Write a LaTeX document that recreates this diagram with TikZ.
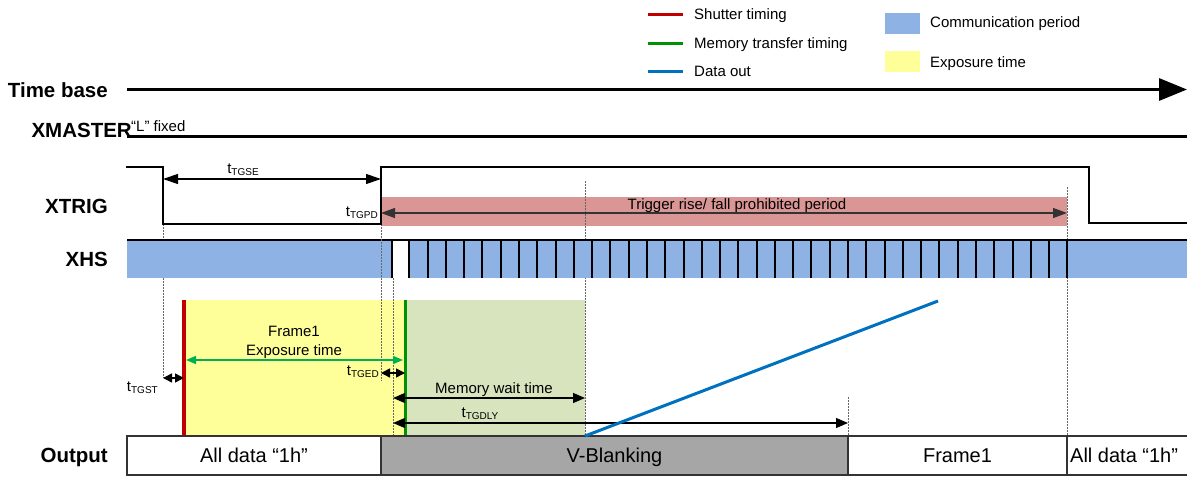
\documentclass[tikz,border=0pt]{standalone}
\usepackage{fontspec}
\setmainfont{Liberation Sans}
\usetikzlibrary{arrows.meta}
\definecolor{comm}{RGB}{141,178,227}
\definecolor{expo}{RGB}{255,255,153}
\definecolor{salmon}{RGB}{217,150,148}
\definecolor{memg}{RGB}{215,228,189}
\definecolor{vgray}{RGB}{166,166,166}
\definecolor{shutred}{RGB}{192,0,0}
\definecolor{memline}{RGB}{0,146,0}
\definecolor{arrgreen}{RGB}{0,176,80}
\definecolor{dataout}{RGB}{0,112,192}
\newcommand{\tsub}[2]{#1\raisebox{-2.5pt}{\fontsize{10}{10}\selectfont #2}}
\begin{document}
\begin{tikzpicture}[x=1pt,y=-1pt,
  lbl/.style={font=\fontsize{20.5}{24}\selectfont\bfseries, inner sep=0, anchor=base east},
  txt/.style={font=\fontsize{15}{18}\selectfont, inner sep=0},
  big/.style={font=\fontsize{20}{24}\selectfont, inner sep=0, anchor=base},
  sig/.style={line width=2.4pt, line join=miter},
  dimarr/.style={line width=1.2pt, {Triangle[length=12pt,width=10pt]}-{Triangle[length=12pt,width=10pt]}},
  bigarr/.style={line width=1.2pt, {Triangle[length=15pt,width=10pt]}-{Triangle[length=15pt,width=10pt]}},
  smallarr/.style={line width=1.5pt, {Triangle[length=9pt,width=9pt]}-{Triangle[length=9pt,width=9pt]}},
  guide/.style={line width=0.9pt, black!60, dash pattern=on 1.6pt off 1.4pt},
  tick/.style={line width=2pt},
  legline/.style={line width=3pt},
  box/.style={draw=black!80, line width=1.2pt, minimum height=39pt, inner sep=0},
]
\useasboundingbox (0,0) rectangle (1187,479);

% ---------- legend ----------
\coordinate (lgr1) at (648,14);  \coordinate (lgr2) at (683,14);
\coordinate (lgg1) at (648,43);  \coordinate (lgg2) at (683,43);
\coordinate (lgb1) at (648,71);  \coordinate (lgb2) at (683,71);
\draw[legline, shutred] (lgr1) -- (lgr2);
\draw[legline, memline] (lgg1) -- (lgg2);
\draw[legline, dataout] (lgb1) -- (lgb2);
\node[txt, anchor=base west] (lgrt) at (694,19.5) {Shutter timing};
\node[txt, anchor=base west] (lggt) at (694,48.5) {Memory transfer timing};
\node[txt, anchor=base west] (lgbt) at (694,76.5) {Data out};
\node[fill=comm, minimum width=35pt, minimum height=21pt, inner sep=0] (lgc) at (902.5,23) {};
\node[txt, anchor=base west] (lgct) at (930,27.5) {Communication period};
\node[fill=expo, minimum width=35pt, minimum height=21pt, inner sep=0] (lge) at (902.5,61) {};
\node[txt, anchor=base west] (lget) at (930,67.5) {Exposure time};

% ---------- time base / xmaster ----------
\node[lbl] (ltb) at (108,97) {Time base};
\coordinate (tb0) at (127,89.5); \coordinate (tb1) at (1187,89.5);
\draw[line width=3.2pt, -{Triangle[length=28pt,width=22pt]}] (tb0) -- (tb1);
\node[lbl] (lxm) at (132,137) {XMASTER};
\node[txt, anchor=base west] (lxmf) at (131,131) {“L” fixed};
\coordinate (xm0) at (127,136); \coordinate (xm1) at (1187,136);
\draw[line width=3pt] (xm0) -- (xm1);

% ---------- background areas ----------
\node[fill=salmon, minimum width=686pt, minimum height=29pt, inner sep=0] (prohib) at (724,211.5) {};
\node[fill=expo, minimum width=221pt, minimum height=136pt, inner sep=0] (expoarea) at (294.5,368) {};
\node[fill=memg, minimum width=180pt, minimum height=136pt, inner sep=0] (memarea) at (495,368) {};

% ---------- guides ----------
\coordinate (g163a) at (163,224);  \coordinate (g163b) at (163,378);
\coordinate (g381a) at (381,224);  \coordinate (g381b) at (381,381);
\coordinate (g393a) at (393,278);  \coordinate (g393b) at (393,436);
\coordinate (g585a) at (585,181);  \coordinate (g585b) at (585,436);
\coordinate (g848a) at (848,397);  \coordinate (g848b) at (848,436);
\coordinate (g1067a) at (1067,187); \coordinate (g1067b) at (1067,436);
\draw[guide] (g163a) -- (g163b);
\draw[guide] (g393a) -- (g393b);
\draw[guide] (g585a) -- (g585b);
\draw[guide] (g848a) -- (g848b);
\draw[guide] (g1067a) -- (g1067b);

% ---------- XHS ----------
\node[lbl] (lxhs) at (108,266) {XHS};
\node[fill=comm, minimum width=1060pt, minimum height=38pt, inner sep=0] (xhsband) at (657,259) {};
\node[fill=white, minimum width=17.3pt, minimum height=38pt, inner sep=0] (xhsgap) at (400.65,259) {};
\coordinate (xh0) at (127,240); \coordinate (xh1) at (1187,240);
\draw[line width=2.5pt] (xh0) -- (xh1);
\draw[tick] (392,240) -- ++(0,38);
\foreach \k in {0,...,36} \draw[tick] ({409.3+18.28*\k},240) -- ++(0,38);
\draw[guide] (g381a) -- (g381b);

% ---------- XTRIG ----------
\node[lbl] (lxt) at (108,213) {XTRIG};
\coordinate (xt0) at (126,167); \coordinate (xt1) at (163,167);
\coordinate (xt2) at (163,224); \coordinate (xt3) at (381,224);
\coordinate (xt4) at (381,167); \coordinate (xt5) at (1089,167);
\coordinate (xt6) at (1089,223); \coordinate (xt7) at (1187,223);
\draw[sig] (xt0) -- (xt1) -- (xt2) -- (xt3) -- (xt4) -- (xt5) -- (xt6) -- (xt7);
\coordinate (pa0) at (381,213); \coordinate (pa1) at (1067,213);
\draw[black!80, line width=1.2pt, {Triangle[length=14pt,width=10pt]}-{Triangle[length=14pt,width=10pt]}] (pa0) -- (pa1);
\node[txt, anchor=base] (ptx) at (737,209) {Trigger rise/ fall prohibited period};
\coordinate (se0) at (163,179); \coordinate (se1) at (381,179);
\draw[bigarr] (se0) -- (se1);
\node[txt, anchor=base] (tgse) at (243,173) {\tsub{t}{TGSE}};
\node[txt, anchor=base east] (tgpd) at (378,216) {\tsub{t}{TGPD}};

% ---------- exposure / memory ----------
\coordinate (sh0) at (184,300); \coordinate (sh1) at (184,436);
\coordinate (mt0) at (405,300); \coordinate (mt1) at (405,436);
\draw[line width=3.5pt, shutred] (sh0) -- (sh1);
\draw[line width=3pt, memline] (mt0) -- (mt1);
\coordinate (ex0) at (186,360); \coordinate (ex1) at (403,360);
\draw[arrgreen, line width=1.5pt, {Triangle[length=10pt,width=8pt]}-{Triangle[length=10pt,width=8pt]}] (ex0) -- (ex1);
\node[txt, anchor=base] (fr1) at (294,336) {Frame1};
\node[txt, anchor=base] (fr1e) at (294,355) {Exposure time};
\coordinate (st0) at (163,378); \coordinate (st1) at (184,378);
\draw[smallarr] (st0) -- (st1);
\node[txt, anchor=base east] (tgst) at (158,391) {\tsub{t}{TGST}};
\coordinate (ed0) at (381,373); \coordinate (ed1) at (405,373);
\draw[smallarr] (ed0) -- (ed1);
\node[txt, anchor=base east] (tged) at (379,375) {\tsub{t}{TGED}};
\coordinate (mw0) at (393,398); \coordinate (mw1) at (585,398);
\draw[dimarr] (mw0) -- (mw1);
\node[txt, anchor=base] (mwt) at (494,393) {Memory wait time};
\coordinate (dl0) at (393,423); \coordinate (dl1) at (848,423);
\draw[dimarr] (dl0) -- (dl1);
\node[txt, anchor=base] (tgdly) at (480,417) {\tsub{t}{TGDLY}};

% ---------- output ----------
\node[lbl] (lout) at (108,462) {Output};
\node[box, fill=white, minimum width=254pt] (o1) at (254,455.5) {};
\node[box, fill=vgray, minimum width=467pt] (o2) at (614.5,455.5) {};
\node[box, fill=white, minimum width=219pt] (o3) at (957.5,455.5) {};
\node[box, fill=white, minimum width=126pt] (o4) at (1130,455.5) {};
\node[big] (o1t) at (254,462) {All data “1h”};
\node[big] (o2t) at (614.5,462) {V-Blanking};
\node[big] (o3t) at (957.5,462) {Frame1};
\node[big, anchor=base west] (o4t) at (1070,462) {All data “1h”};

% ---------- data out ----------
\coordinate (do0) at (585,436); \coordinate (do1) at (938,301);
\draw[line width=3pt, dataout] (do0) -- (do1);
\end{tikzpicture}
\end{document}
